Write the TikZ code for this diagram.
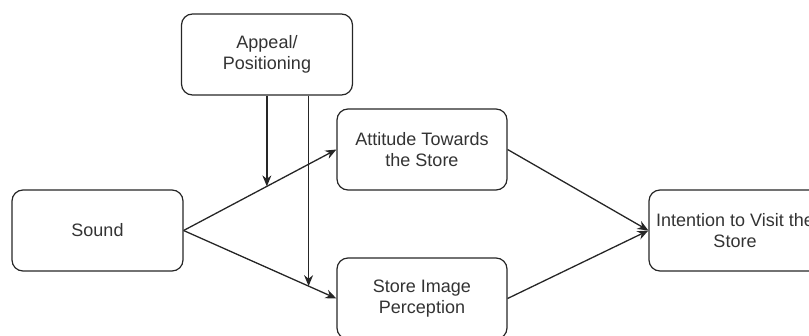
\documentclass[tikz,border=0pt]{standalone}
\usepackage{fontspec}
\setmainfont{Liberation Sans}
\usetikzlibrary{arrows.meta,calc}
\begin{document}
\begin{tikzpicture}[x=1pt,y=-1pt,
  box/.style={draw=black!85, line width=1.2pt, rounded corners=11pt, align=center,
    font=\fontsize{18}{20.5}\selectfont, text=black!80, inner sep=0pt},
  conn/.style={draw=black!85, line width=1.3pt, -{Stealth[length=11pt,width=9pt]}}]
\useasboundingbox (0,0) rectangle (809,335);
\clip (0,0) rectangle (809,335);
\node[box, minimum width=171pt, minimum height=81pt] (appeal) at (267,54.5) {Appeal/\\Positioning};
\node[box, minimum width=171pt, minimum height=81pt] (sound) at (97.5,230.5) {Sound};
\node[box, minimum width=170pt, minimum height=81pt] (att) at (422,149.5) {Attitude Towards\\the Store};
\node[box, minimum width=170pt, minimum height=81pt] (img) at (422,298.5) {Store Image\\Perception};
\node[box, minimum width=172pt, minimum height=81pt] (int) at (735,230.5) {Intention to Visit the\\Store};
\draw[conn] (sound.east) -- (att.west);
\draw[conn] (sound.east) -- (img.west);
\draw[conn] (att.east) -- (int.west);
\draw[conn] (img.east) -- (int.west);
\coordinate (m1) at ($(sound.east)!0.545!(att.west)$);
\coordinate (m2) at ($(sound.east)!0.818!(img.west)$);
\draw[conn] (appeal.south -| m1) -- (m1);
\draw[conn] (appeal.south -| m2) -- (m2);
\end{tikzpicture}
\end{document}
